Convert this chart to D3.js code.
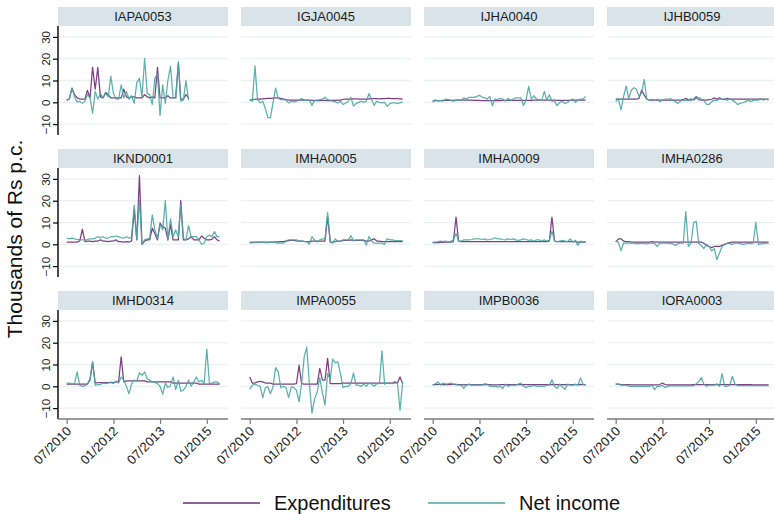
<!DOCTYPE html>
<html>
<head>
<meta charset="utf-8">
<script src="https://cdn.jsdelivr.net/npm/d3@7"></script>
<style>
  body { margin: 0; background: #fff; }
  svg { display: block; font-family: "Liberation Sans", Arial, Helvetica, sans-serif; }
</style>
</head>
<body>
<svg id="chart" width="774" height="514"></svg>
<script>
// Panels (one per branch), monthly series starting 07/2010, thousands of Rs per capita
const panelNames = ["IAPA0053", "IGJA0045", "IJHA0040", "IJHB0059",
                    "IKND0001", "IMHA0005", "IMHA0009", "IMHA0286",
                    "IMHD0314", "IMPA0055", "IMPB0036", "IORA0003"];

const seriesNames = ["Expenditures", "Net income"];
const seriesColors = ["#6d2e73", "#4aa7a4"];

const tickDates = ["2010-07", "2012-01", "2013-07", "2015-01"];
const yTicks = [-10, 0, 10, 20, 30];

const expIAPA0053 = [1,1.5,6.5,3.5,2,1.5,1.5,1.5,5.5,2,16,6,16,2.5,2,4.5,3.5,2,2,2,2,2,6,2.5,2,2.5,2.5,2,2,2,3.5,2.5,2,2.5,2,16,2,2,2,3,2,2,2,18,1.5,1.5,3.5,2];
const incIAPA0053 = [1,1.5,6.5,2.5,0,0.5,-0.5,0.5,3.5,2,-5,5,1.5,4,2,4,2.5,12,4,1.5,1.5,8,2,5,1.5,3,-0.5,9,11,2.5,20,4,3.5,-1,11,13,-6,8,-0.5,10,16.5,2,2,18.5,0.5,1,10,1];

const expIGJA0045 = [1,1.2,1.4,1.5,1.5,1.6,1.7,1.8,1.8,1.9,2,2,1.8,1.5,1.2,1,1,1,1,1,1.1,1,1,1,0.9,0.8,0.8,0.8,0.9,0.9,0.8,0.8,0.9,0.9,1,1,1.4,1.5,1.5,1.5,1.6,1.6,1.5,1.5,1.5,1.5,1.6,1.7,1.7,1.7,1.6,1.7,1.7,1.8,1.8,1.7,1.7,1.7,1.6,1.6];
const incIGJA0045 = [1,0.5,16.7,1.2,-0.3,0.5,-3,-7,-7,-0.3,6.5,2,1.2,1.2,1,-0.3,0.5,0.2,0.5,1,1.7,1,1,1,-1.4,1,1,1.2,1.5,2.3,1.2,1,0.5,0.2,-0.3,0.5,-1,-0.3,0.5,2.4,-1.8,-0.6,0,0.5,0,0.5,4,1.2,-1.4,0.5,0,-0.3,0,-1.8,-0.6,-0.3,-0.3,-0.6,-0.3,0.2];

const expIJHA0040 = [0.5,0.8,0.8,0.8,0.9,0.9,0.9,0.9,0.9,1,1,1,1,1,1,1,0.9,0.9,0.9,0.8,0.8,0.8,0.8,0.8,0.8,0.8,0.8,0.9,0.9,0.9,0.9,0.9,0.9,0.9,0.9,0.9,0.9,0.9,0.9,1,1,1,1,1,1,1,1,1,0.9,0.9,0.9,0.9,0.9,0.9,1,1,1,1,1,1];
const incIJHA0040 = [0,1.2,0.5,0.9,0.5,1.5,1.2,0.9,0.5,0.9,1.2,0.9,2,1.5,2.3,2.3,2.3,2.7,3.2,2.4,2,1.5,2.7,-1.5,1.5,1.2,1.8,1.5,0.5,1.8,0.9,1.5,2,2,2,-1.5,1,7.3,1.5,3,1.5,1.2,0.9,5,1,3.5,0.5,0.5,-1.5,0,0.5,-0.6,0,0.9,1.5,0,0.9,1.5,1.5,2.7];

const expIJHB0059 = [1.4,1.4,1.4,1.4,1.4,1.4,1.4,1.4,1.4,1.8,5.6,3.3,1.4,1,1,1,1,1,1,1,1,1,1,1,1,1,1.2,1.8,1,1,1.4,2.6,1.2,1,1,1,1.2,1.4,2.1,1.4,2.1,1.4,1.2,1.8,1.4,1.4,1.4,1.4,1.4,1.4,1.4,1.4,1.4,1.4,1.4,1.4,1.4,1.4,1.4,1.4];
const incIJHB0059 = [0.3,1.8,-3.5,2.6,7.4,1.8,5.6,6.7,6,2.6,4.4,10.5,1.5,1,1.4,1,1.4,0.3,1,1.4,1.4,1.7,1,0.3,-0.5,0.6,1,0.8,1,1.7,1,1.7,2.3,1.4,1,-1,-1,0.3,1,0.8,1.4,1.4,1.7,0.8,1.7,1,0.2,-1,-0.5,-0.2,0.2,1,0.3,0.8,1,1,1.7,1,1.4,1];

const expIKND0001 = [1,1,1,1,1,1.5,6.9,1.2,1.5,1.5,1.2,1.5,1.5,2,1.5,1.5,1.2,1.5,1.5,2,1.2,1.2,1,1.2,1,1.5,16,2,31.5,0,1.5,2,2,7.4,5,2,9.7,8,7.4,2,9,2,2,2,20,2,2,2.5,3.5,2,2,2,3.8,2.8,2,2,2.3,3.5,2,1.5];
const incIKND0001 = [2.8,2.5,2.8,2.5,2.2,2.2,2,2,2.2,2.5,2.5,2.8,3.5,3,3.5,2.8,2.8,3.5,3.5,3.8,3.5,3,2.8,3.5,2.8,3.5,18,2.5,20,0,2,2.5,2.8,13.5,6.6,2.8,9,6.6,20,2,11.7,3.5,6.6,3.5,18,2.8,2,8.6,3.5,3.5,3.5,2,0,0.5,3.5,4.3,3.5,5.8,3.5,3.5];

const expIMHA0005 = [0.8,0.8,0.9,0.9,1,1,1,1,1,1,1.1,1.1,1.2,1.2,1.5,1.7,1.8,1.8,1.6,1.5,1.5,1.3,1.2,1.2,1.5,1.5,1.5,1.5,1.5,1.5,12.7,1,1,1.2,1.5,1.5,1.8,1.8,1.8,2,1.8,1.8,1.8,1.8,1.8,1.5,1.5,2,2.5,1.5,1.5,1.2,1.2,1.2,1.2,1.2,1.2,1.2,1.2,1.2];
const incIMHA0005 = [1,1,1,1,1,1,0.8,0.8,1,1,0.8,0.5,0.5,0.5,1.5,2,2,2,2,1.5,1.5,1.2,1.2,0,3.5,2,1,2,2.5,2.5,14.6,1,0.5,2.5,1.2,1.5,2,2,2,4,1.5,2,2,2,2,-0.3,3.5,1.5,0.5,0.5,0.5,0.5,0,2.5,2,2,1.7,1.7,1.7,1.7];

const expIMHA0009 = [0.8,0.8,0.8,0.9,0.9,1,1,1,1.2,12.5,1.5,1.2,1.2,1.2,1.2,1.2,1.2,1.2,1.2,1.2,1.2,1.2,1.2,1.2,1.2,1.2,1.2,1.2,1.2,1.2,1.2,1.2,1.2,1.2,1.2,1.2,1.2,1.2,1.2,1.2,1.2,1.2,1.2,1.2,1.2,1.5,12.5,1.5,1.2,1.2,1.2,1.2,1.2,1.2,1.2,1.2,1,1,1,1];
const incIMHA0009 = [1,1,1.2,1.5,1.2,1.5,1,1.5,2,5,1.5,1.5,2,2,2,2.2,2.5,2.5,2.5,2.2,2.5,2,2.2,2.5,3,2.5,2.5,2.2,2,2.5,2.2,2.5,2,1.8,2,2.5,2.2,1.8,2,1.5,2,2,1.5,2,1.5,1.8,6,1.5,1.2,1.5,1.8,1.5,1.2,2.5,1,1.8,-0.5,1.5,1,1.2];

const expIMHA0286 = [1,2.5,2.5,1.5,1.2,1.2,1,1,1,1,1,1,1,1,1.2,1,1,1,1,1,1,1,1,1,1,1,1,1,1,1,1,1,1,1,0.5,-0.5,-1,-1.5,-1,-1,-1,-0.5,0,0.5,0.8,1,1,1,1,1,1,1,1,1,1,1,1,1,1,1];
const incIMHA0286 = [1.5,1,-3,0.5,0.5,0.5,0.5,0.5,0.3,0.3,0.5,0.3,0.2,0.5,0.5,0.3,-1,0.5,0.5,0.5,0.5,0.3,0.2,-0.5,0.3,0.5,0.5,15,-1,0.5,10,10.5,0.5,-0.5,-2,0,-1,-3,-2,-7,-4,-1,0,0.5,0.3,0,0.5,0.5,0.3,0,0.2,0.5,0.3,0.5,10,0,0.2,0.3,0.5,0.5];

const expIMHD0314 = [1,1,1,1,1,1,1,1,1,2.8,11,1.5,1.7,1.7,1.7,1.7,1.7,1.7,1.7,2,2,13.5,2,2.5,2.5,2.5,2.5,2.5,2.5,2.5,2.5,2,2,2,2,2,2,2,2,2,2,1.5,1.5,1.5,1.5,1.5,1.5,1.5,1.5,1.5,1.5,1,1,1,1,1,1,1,1,1];
const incIMHD0314 = [1.5,1.5,1,1.2,6.6,0.5,0,0.3,1,3.5,11.2,0.5,0.8,0.8,1.5,1.2,1.5,2,1.2,2.5,1.5,4.3,2.8,0,-3.4,1.2,2.8,2.3,6.2,5,6.6,3.5,2.8,2,1.8,1.2,0,-3.7,1.5,-0.6,0.3,4.3,-1.5,2.8,-2.2,-1.8,0,2.8,0,2,4.3,2,2.8,1.2,17,1.2,1.5,2,2,1.2];

const expIMPA0055 = [4.3,1.5,1.5,2,2.3,2,1.5,1.5,1.5,1,1,1,1,1,1,1,1,1,1.2,9.7,1.2,1,1,1,1,1,1,8.2,2.8,2.8,12.8,1.2,1.2,1.2,1.2,1.2,1.5,1.5,1.5,1.5,1.5,1.5,1.5,1.5,1.5,1.5,1.5,1.5,1.5,1.5,1.5,1.5,1.5,1.5,1.5,1.5,2,1.5,4.3,1.2];
const incIMPA0055 = [-1.4,0.5,1,0.5,0,-5.2,-0.6,-0.3,-3.4,-0.3,8.6,6.6,-0.6,0,-0.6,-5.2,-0.3,-0.6,-1.8,-7.2,1,13.5,18,1.2,-12.3,-5.7,-2.6,4,-3.1,-8.5,5.8,3.1,12.5,10.8,11.2,5.8,-0.6,0,0,1.2,6.2,0.5,0.5,0,1,0,1.5,1,0,1.2,1.2,16.2,1,1.5,1.5,1.2,1.5,1.5,-11,2];

const expIMPB0036 = [0.8,0.8,0.9,0.9,0.8,0.8,0.8,0.9,0.9,0.8,0.8,0.8,0.7,0.8,0.8,0.8,0.8,0.8,0.8,0.8,0.8,0.8,0.8,0.7,0.7,0.7,0.8,0.8,0.8,0.8,0.8,0.8,0.8,0.8,0.8,0.8,0.8,0.8,0.8,0.8,0.8,0.8,0.8,0.8,0.8,0.8,0.9,0.8,0.8,0.8,0.8,0.8,0.8,0.8,0.8,0.8,0.8,0.9,0.8,0.8];
const incIMPB0036 = [0.5,1.2,2,0.5,1.5,1,1.2,1.5,1,1,0.5,0.5,-1,0.5,1,0.5,0.5,0.5,0.5,0.5,1.2,1,0,0,0,-0.3,0,-1,1,0,0.5,0.5,0.5,1,1.5,0,-0.6,0,0,0.5,0,0,0,0,0.5,0.5,3,0,-1,1,-0.3,-1.5,1,0.5,0.5,1,0.5,3.8,1,0.5];

const expIORA0003 = [1,1,0.8,0.8,0.8,0.8,0.7,0.7,0.7,0.7,0.7,0.7,0.7,0.7,0.7,0.7,0.7,0.8,1.5,0.8,0.7,0.7,0.7,0.7,0.7,0.7,0.7,0.7,0.7,0.7,0.8,0.8,0.8,0.8,0.8,0.8,0.8,0.8,0.8,0.8,0.8,0.8,0.8,0.8,0.8,0.8,0.8,0.8,0.8,0.8,0.8,0.8,0.8,0.7,0.7,0.7,0.7,0.7,0.7,0.7];
const incIORA0003 = [1,1,0.5,0.5,0.5,0,0,0,0,0,0,0,0,0,0.5,-1.5,0,0,0.5,-0.6,0,0.2,0.2,0.2,0.2,0.2,0.2,0.2,0.2,0.2,0.2,1.2,2,4,1,0,0.5,0.5,0.5,1.2,0,5.8,0,0,0.5,4.6,1,0.3,0.3,0.3,0.3,0.3,0.3,0.3,0.3,0.3,0.3,0.3,0.3,0.3];

const expenditureSeries = [expIAPA0053, expIGJA0045, expIJHA0040, expIJHB0059,
                           expIKND0001, expIMHA0005, expIMHA0009, expIMHA0286,
                           expIMHD0314, expIMPA0055, expIMPB0036, expIORA0003];
const incomeSeries = [incIAPA0053, incIGJA0045, incIJHA0040, incIJHB0059,
                      incIKND0001, incIMHA0005, incIMHA0009, incIMHA0286,
                      incIMHD0314, incIMPA0055, incIMPB0036, incIORA0003];

// ---- layout ----
const svg = d3.select("#chart");
const nCols = 4;
const left0 = 58, top0 = 26;
const panelW = 170, panelH = 109;
const colStep = 183, rowStep = 142;
const stripH = 19;
const font = '"Liberation Sans", Arial, Helvetica, sans-serif';

const parseMonth = d3.timeParse("%Y-%m");
const startMonth = parseMonth("2010-07");
const monthDate = i => d3.timeMonth.offset(startMonth, i);

const x = d3.scaleTime()
  .domain([new Date(2010, 2, 21), new Date(2015, 8, 7)])
  .range([0, panelW]);
const y = d3.scaleLinear().domain([-15, 35]).range([panelH, 0]);
const fmt = d3.timeFormat("%m/%Y");

const line = d3.line()
  .x((d, i) => x(monthDate(i)))
  .y(d => y(d));

panelNames.forEach((name, p) => {
  const col = p % nCols, row = Math.floor(p / nCols);
  const g = svg.append("g")
    .attr("transform", `translate(${left0 + col * colStep},${top0 + row * rowStep})`);

  // header strip
  g.append("rect")
    .attr("x", 0).attr("y", -stripH)
    .attr("width", panelW).attr("height", stripH)
    .attr("fill", "#d9e4ea");
  g.append("text")
    .attr("x", panelW / 2).attr("y", -stripH / 2)
    .attr("dy", "0.36em")
    .attr("text-anchor", "middle")
    .attr("font-size", 13)
    .attr("fill", "#1a1a1a")
    .text(name);

  // gridlines
  g.append("g").selectAll("line").data(yTicks).join("line")
    .attr("x1", 0).attr("x2", panelW)
    .attr("y1", d => y(d)).attr("y2", d => y(d))
    .attr("stroke", "#eaf1f3").attr("stroke-width", 1.3);

  // series
  const clipId = "clip" + p;
  g.append("clipPath").attr("id", clipId)
    .append("rect").attr("width", panelW).attr("height", panelH);
  const lines = g.append("g").attr("clip-path", `url(#${clipId})`);
  [expenditureSeries[p], incomeSeries[p]].forEach((vals, s) => {
    lines.append("path")
      .attr("d", line(vals))
      .attr("fill", "none")
      .attr("stroke", seriesColors[s])
      .attr("stroke-width", 1.25)
      .attr("stroke-opacity", 0.9)
      .attr("stroke-linejoin", "round");
  });

  // y axis on first column
  if (col === 0) {
    const ya = g.append("g").call(d3.axisLeft(y).tickValues(yTicks).tickSize(5).tickPadding(3));
    ya.select(".domain").attr("d", `M0,0V${panelH}`).attr("stroke", "#000").attr("stroke-width", 1.4);
    ya.selectAll(".tick line").attr("stroke", "#000").attr("stroke-width", 1.2);
    ya.selectAll(".tick text")
      .attr("font-family", font).attr("font-size", 11.5).attr("fill", "#222")
      .attr("x", null).attr("dy", null)
      .attr("transform", "translate(-8.5,0) rotate(-90)")
      .attr("text-anchor", "middle");
  }

  // x axis on bottom row
  if (row === 2) {
    const xa = g.append("g")
      .attr("transform", `translate(0,${panelH})`)
      .call(d3.axisBottom(x).tickValues(tickDates.map(parseMonth)).tickFormat(fmt).tickSize(5));
    xa.select(".domain").attr("d", `M0,0H${panelW}`).attr("stroke", "#7a7a7a").attr("stroke-width", 1.5);
    xa.selectAll(".tick line").attr("stroke", "#7a7a7a").attr("stroke-width", 1.2);
    xa.selectAll(".tick text")
      .attr("font-family", font).attr("font-size", 13).attr("fill", "#222")
      .attr("y", null).attr("dy", null)
      .attr("text-anchor", "end")
      .attr("transform", "translate(5,13) rotate(-45)");
  }
});

// y axis title
svg.append("text")
  .attr("transform", "translate(22,239) rotate(-90)")
  .attr("text-anchor", "middle")
  .attr("font-size", 21)
  .attr("fill", "#111")
  .text("Thousands of Rs p.c.");

// legend
const legendX = [183, 428];
const legend = svg.append("g");
seriesNames.forEach((nm, s) => {
  legend.append("line")
    .attr("x1", legendX[s]).attr("x2", legendX[s] + 77)
    .attr("y1", 503).attr("y2", 503)
    .attr("stroke", seriesColors[s]).attr("stroke-width", 1.4);
  legend.append("text")
    .attr("x", legendX[s] + 91).attr("y", 510)
    .attr("font-size", 20).attr("fill", "#111")
    .text(nm);
});
</script>
</body>
</html>
